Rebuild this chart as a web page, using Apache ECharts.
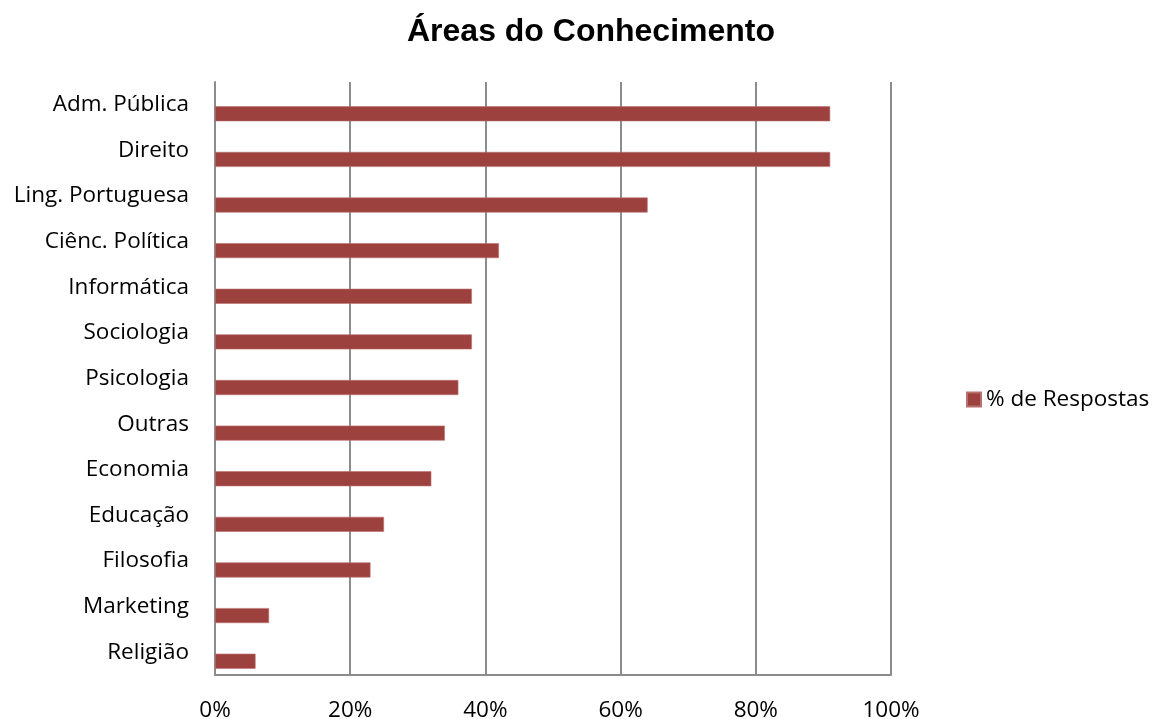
<!DOCTYPE html>
<html>
<head>
<meta charset="utf-8">
<script src="https://cdn.jsdelivr.net/npm/echarts@6/dist/echarts.min.js"></script>
<style>
  html, body { margin: 0; padding: 0; background: #ffffff; }
  #chart { width: 1153px; height: 719px; }
</style>
</head>
<body>
<div id="chart"></div>
<script>
// Knowledge areas, listed top to bottom
const categories = [
  'Adm. Pública', 'Direito', 'Ling. Portuguesa', 'Ciênc. Política', 'Informática',
  'Sociologia', 'Psicologia', 'Outras', 'Economia', 'Educação',
  'Filosofia', 'Marketing', 'Religião'
];
// Share of answers (%)
const respostas = [91, 91, 64, 42, 38, 38, 36, 34, 32, 25, 23, 8, 6];
const seriesName = '% de Respostas';
const xTicks = { min: 0, max: 100, interval: 20 };

const chart = echarts.init(document.getElementById('chart'), null, { renderer: 'canvas' });

const labelFont = '"Open Sans", Lato, sans-serif';
const labelSize = 22.5;
const gridColor = '#8c8c8c';

chart.setOption({
  backgroundColor: '#ffffff',
  animation: false,
  title: {
    text: 'Áreas do Conhecimento',
    left: 586,
    textAlign: 'center',
    top: 11,
    textStyle: {
      fontFamily: '"Liberation Sans", Arial, sans-serif',
      fontWeight: 'bold',
      fontSize: 32,
      color: '#000000'
    }
  },
  legend: {
    data: [seriesName],
    orient: 'vertical',
    left: 961,
    top: 383,
    itemWidth: 14,
    itemHeight: 14,
    itemGap: 6,
    icon: 'rect',
    textStyle: { fontFamily: labelFont, fontSize: labelSize, color: '#000000' }
  },
  grid: {
    left: 215, right: 262, top: 82, bottom: 44,
    containLabel: false,
    outerBoundsMode: 'none'
  },
  xAxis: {
    type: 'value',
    min: xTicks.min,
    max: xTicks.max,
    interval: xTicks.interval,
    axisLine: { show: true, lineStyle: { color: gridColor, width: 2 } },
    axisTick: { show: false },
    splitLine: { show: true, lineStyle: { color: gridColor, width: 2 } },
    axisLabel: {
      formatter: '{value}%',
      margin: 24,
      fontFamily: labelFont,
      fontSize: labelSize,
      color: '#000000'
    }
  },
  yAxis: {
    type: 'category',
    inverse: true,
    data: categories,
    axisLine: { show: true, lineStyle: { color: gridColor, width: 2 } },
    axisTick: { show: false },
    splitLine: { show: false },
    axisLabel: {
      margin: 26,
      fontFamily: labelFont,
      fontSize: labelSize,
      color: '#000000'
    }
  },
  series: [
    {
      // empty companion series: keeps the data bar in the lower half of each band
      name: 'spacer',
      type: 'bar',
      data: categories.map(() => null),
      barWidth: 15,
      barGap: '20%',
      silent: true
    },
    {
      name: seriesName,
      type: 'bar',
      data: respostas,
      barWidth: 15,
      barGap: '20%',
      itemStyle: { color: '#9d413f', borderColor: '#b8706e', borderWidth: 0.6 }
    }
  ]
});
</script>
</body>
</html>
